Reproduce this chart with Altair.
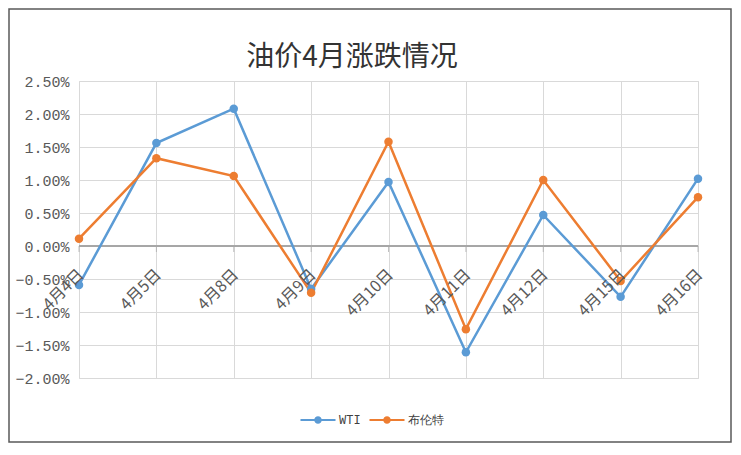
import altair as alt
import pandas as pd

dates = ["4月4日", "4月5日", "4月8日", "4月9日", "4月10日", "4月11日", "4月12日", "4月15日", "4月16日"]
wti = [-0.0059, 0.0156, 0.0208, -0.0065, 0.0097, -0.0161, 0.0047, -0.0077, 0.0102]
brent = [0.0011, 0.0133, 0.0106, -0.0071, 0.0158, -0.0126, 0.0100, -0.0053, 0.0074]
series = ["WTI", "布伦特"]
colors = ["#5B9BD5", "#ED7D31"]
y_ticks = [-0.02, -0.015, -0.01, -0.005, 0.0, 0.005, 0.01, 0.015, 0.02, 0.025]
title_text = "油价4月涨跌情况"

rows = []
for d, v in zip(dates, wti):
    rows.append({"date": d, "series": series[0], "value": v})
for d, v in zip(dates, brent):
    rows.append({"date": d, "series": series[1], "value": v})
df = pd.DataFrame(rows)
labels_df = pd.DataFrame({"date": dates, "zero": [0.0] * len(dates)})

FONT = "Noto Sans CJK SC"
MONO = "Liberation Mono"

x_axis = alt.Axis(title=None, labels=False, ticks=False, domain=False,
                  grid=True, gridColor="#d9d9d9")
y_axis = alt.Axis(title=None, format=".2%", values=y_ticks, grid=True,
                  gridColor="#d9d9d9", domain=False, ticks=False,
                  labelFontSize=15, labelColor="#595959", labelFont=MONO,
                  labelPadding=10, labelOverlap=False)
x_scale = alt.Scale(type="point", padding=0)
y_scale = alt.Scale(domain=[-0.02, 0.025], nice=False, zero=False)


def xe():
    return alt.X("date:N", sort=dates, scale=x_scale, axis=x_axis)


def ye(field):
    return alt.Y(field, scale=y_scale, axis=y_axis)


color_scale = alt.Scale(domain=series, range=colors)

legend_path = ("M-1.5,-0.09H1.5V0.09H-1.5Z "
               "M0.32,0A0.32,0.32,0,1,1,-0.32,0A0.32,0.32,0,1,1,0.32,0Z")
legend = alt.Legend(title=None, orient="none", direction="horizontal",
                    legendX=227, legendY=327,
                    symbolType=legend_path, symbolSize=545,
                    symbolStrokeWidth=0, labelFontSize=12,
                    labelFont=MONO, labelColor="#404040",
                    labelOffset=9, columnPadding=8)

lines = alt.Chart(df).mark_line(strokeWidth=2.5).encode(
    x=xe(), y=ye("value:Q"),
    color=alt.Color("series:N", scale=color_scale, legend=legend),
)

points = alt.Chart(df).mark_point(filled=True, size=72, opacity=1).encode(
    x=xe(), y=ye("value:Q"),
    color=alt.Color("series:N", scale=color_scale, legend=legend),
)

zero_rule = alt.Chart(labels_df).mark_rule(color="#a6a6a6", strokeWidth=1).encode(
    y=ye("zero:Q"),
)

ticks = alt.Chart(labels_df).mark_tick(color="#a6a6a6", orient="vertical", size=6,
                                       thickness=1, yOffset=3).encode(
    x=xe(), y=ye("zero:Q"),
)

xlabels = alt.Chart(labels_df).mark_text(angle=315, align="right", baseline="middle",
                                          font=FONT, fontSize=16, color="#595959",
                                          dx=-17, dy=20).encode(
    x=xe(), y=ye("zero:Q"),
    text="date:N",
)

title = alt.Chart(pd.DataFrame({"t": [title_text]})).mark_text(
    font=FONT, fontSize=28, color="#333333", align="center", baseline="alphabetic"
).encode(
    text="t:N", x=alt.value(273), y=alt.value(-15)
)

border = alt.Chart(pd.DataFrame({"a": [0]})).mark_rect(
    fill=None, stroke="#595959", strokeWidth=1.5, clip=False
).encode(
    x=alt.value(-70), x2=alt.value(652), y=alt.value(-72), y2=alt.value(361)
)

chart = alt.layer(zero_rule, ticks, lines, points, xlabels, title, border).properties(
    width=619, height=297,
    autosize=alt.AutoSizeParams(type="none"),
    padding={"left": 79, "top": 81, "right": 43, "bottom": 77},
).configure_view(stroke=None).configure(background="white").configure_axisY(
    labelOverlap=False
)

chart.save("out.html", embed_options={"renderer": "svg", "actions": False})
